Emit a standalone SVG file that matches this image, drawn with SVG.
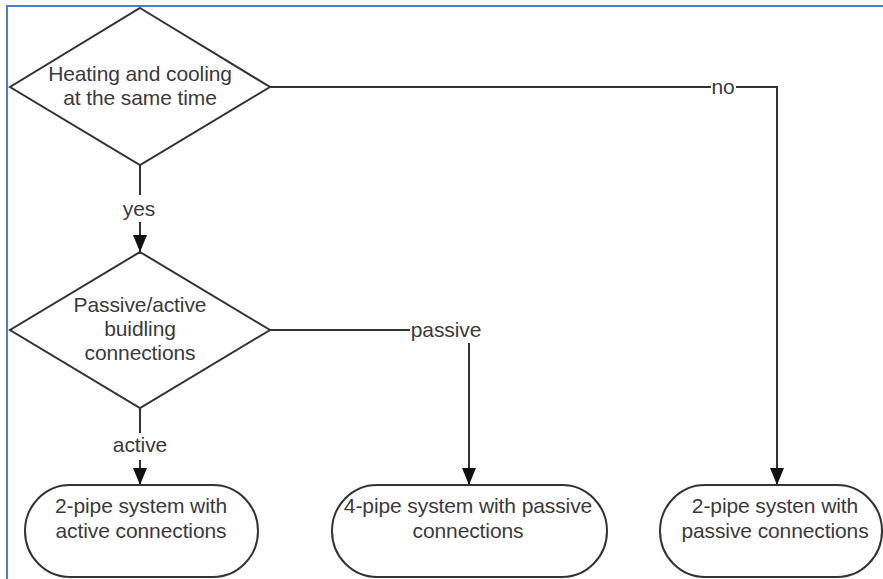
<svg xmlns="http://www.w3.org/2000/svg" width="883" height="579" viewBox="0 0 883 579">
  <style>
    .shape { fill: #ffffff; stroke: #333333; stroke-width: 2; }
    .conn { fill: none; stroke: #333333; stroke-width: 2; }
    .t { font-family: "Liberation Sans", Arial, sans-serif; font-size: 21px; fill: #3a3a3a; text-anchor: middle; letter-spacing: -0.1px; }
    .frame { stroke: #4a7fc8; stroke-width: 2; fill: none; }
  </style>
  <defs>
    <marker id="arrow" markerUnits="userSpaceOnUse" markerWidth="18" markerHeight="14" refX="17" refY="7" orient="auto" viewBox="0 0 18 14">
      <path d="M0,0 L17,7 L0,14 Z" fill="#111111"/>
    </marker>
  </defs>
  <rect x="0" y="0" width="883" height="579" fill="#ffffff"/>
  <path class="frame" d="M7,579 L7,6 L883,6"/>

  <g id="connectors">
    <path class="conn" d="M270,87 L711,87"/>
    <path class="conn" d="M736,87 L777,87 L777,466"/>
    <line x1="777" y1="464" x2="777" y2="485" marker-end="url(#arrow)" class="conn"/>
    <path class="conn" d="M140,165 L140,195"/>
    <path class="conn" d="M140,222 L140,236"/>
    <line x1="140" y1="232" x2="140" y2="252" marker-end="url(#arrow)" class="conn"/>
    <path class="conn" d="M270,330 L410,330"/>
    <path class="conn" d="M469,343 L469,466"/>
    <line x1="469" y1="464" x2="469" y2="485" marker-end="url(#arrow)" class="conn"/>
    <path class="conn" d="M140,408 L140,433"/>
    <line x1="140" y1="460" x2="140" y2="485" marker-end="url(#arrow)" class="conn"/>
    <text class="t" x="723" y="94">no</text>
    <text class="t" x="139" y="216">yes</text>
    <text class="t" x="446" y="337">passive</text>
    <text class="t" x="140" y="452">active</text>
  </g>

  <g id="decision1">
    <polygon class="shape" points="140,8 270,87 140,165 10,87"/>
    <text class="t" x="140" y="81">Heating and cooling</text>
    <text class="t" x="140" y="105">at the same time</text>
  </g>

  <g id="decision2">
    <polygon class="shape" points="140,252 270,330 140,408 10,330"/>
    <text class="t" x="140" y="312">Passive/active</text>
    <text class="t" x="140" y="336">buidling</text>
    <text class="t" x="140" y="360">connections</text>
  </g>

  <g id="end1">
    <rect class="shape" x="25" y="485" width="233" height="92" rx="45" ry="46"/>
    <text class="t" x="141" y="513">2-pipe system with</text>
    <text class="t" x="141" y="538">active connections</text>
  </g>

  <g id="end2">
    <rect class="shape" x="332" y="485" width="275" height="92" rx="45" ry="46"/>
    <text class="t" x="468" y="513">4-pipe system with passive</text>
    <text class="t" x="468" y="538">connections</text>
  </g>

  <g id="end3">
    <rect class="shape" x="660" y="485" width="222" height="92" rx="45" ry="46"/>
    <text class="t" x="775" y="513">2-pipe systen with</text>
    <text class="t" x="775" y="538">passive connections</text>
  </g>
</svg>
